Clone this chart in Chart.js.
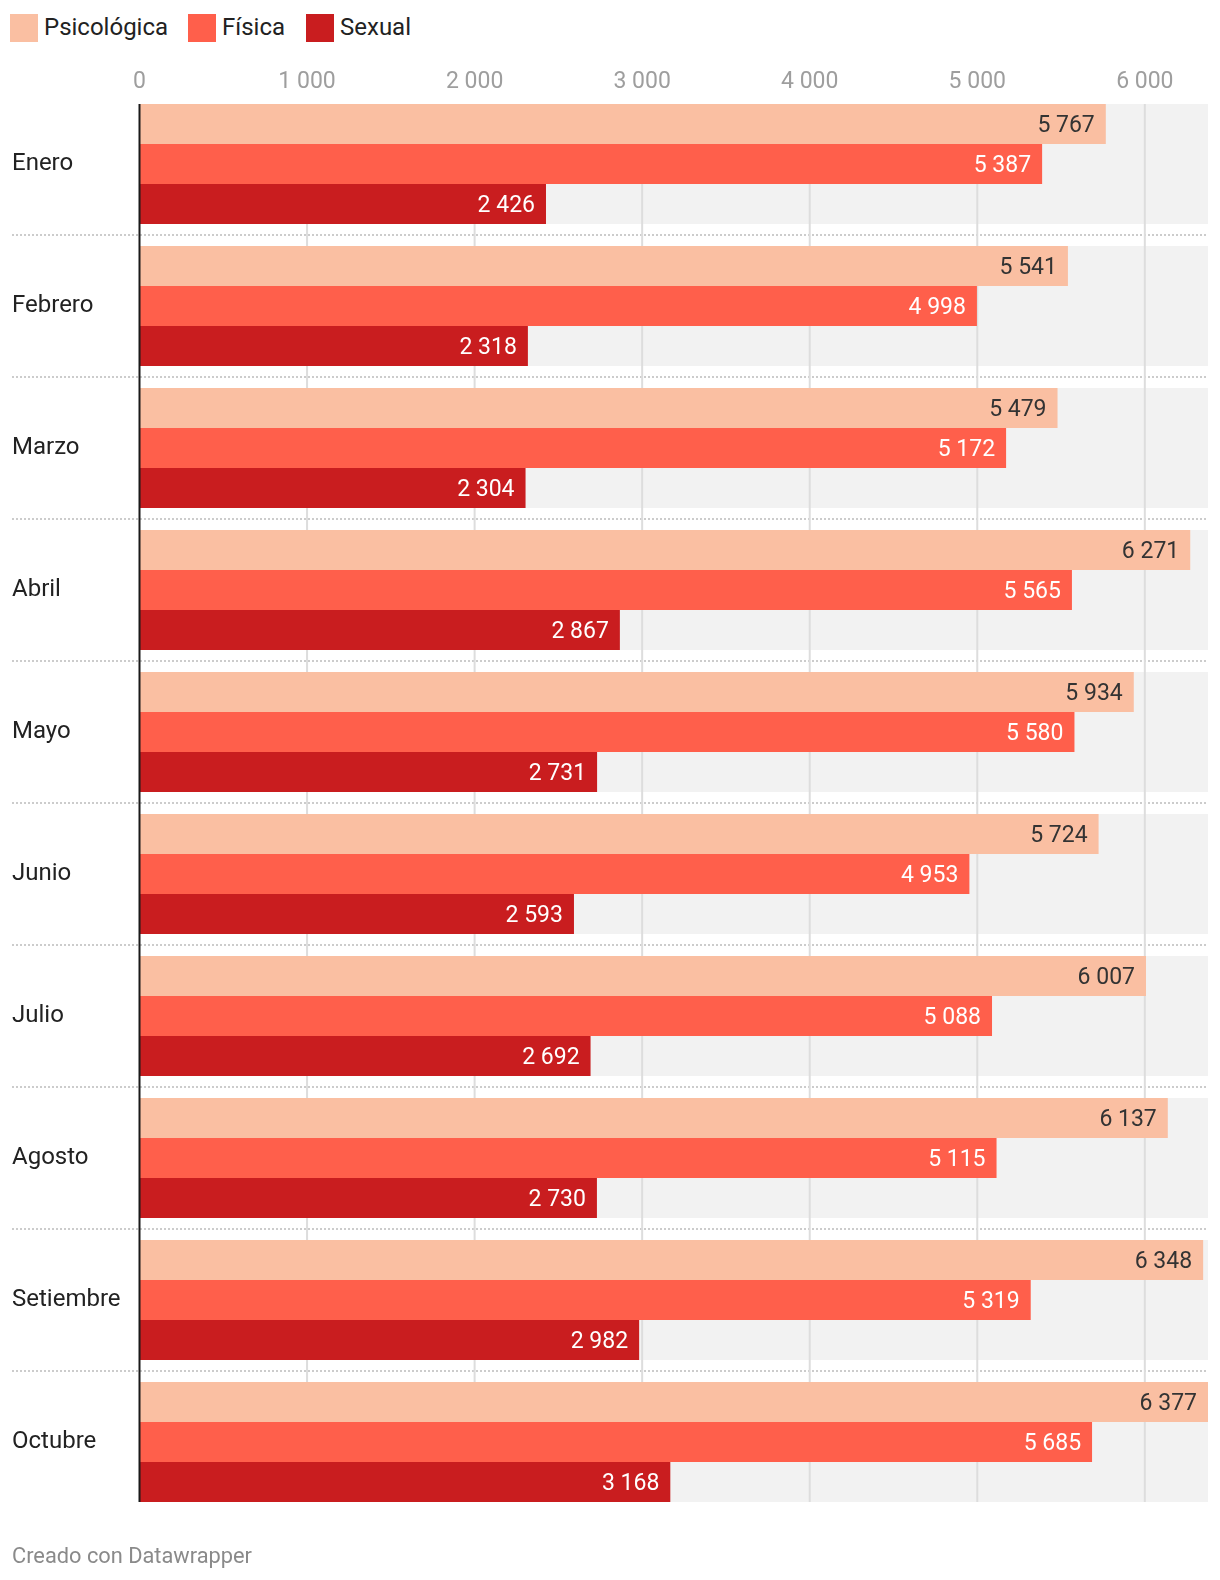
<!DOCTYPE html>
<html>
<head>
<meta charset="utf-8">
<script src="https://cdn.jsdelivr.net/npm/chart.js@4"></script>
<style>
  html, body { margin:0; padding:0; background:#fff; }
  body { width:1220px; height:1580px; position:relative; font-family: Roboto, "Noto Sans", sans-serif; overflow:hidden; }
  #wrap { position:absolute; left:0; top:0; width:1220px; height:1580px; }
  .legend { position:absolute; top:14px; left:10px; display:flex; align-items:center; height:28px; font-size:24px; color:#222; }
  .legend .item { display:flex; align-items:center; height:28px; }
  .legend .sw { width:28px; height:28px; margin-right:6px; }
  .legend span { position:relative; top:-1px; }
  .footer { position:absolute; left:12px; top:1543px; font-size:21.8px; color:#8a8a8a; line-height:26px; }
</style>
</head>
<body>
<div class="legend" id="legend"></div>
<div id="wrap"><canvas id="c" width="1220" height="1580"></canvas></div>
<div class="footer">Creado con Datawrapper</div>
<script>
const categories = ["Enero","Febrero","Marzo","Abril","Mayo","Junio","Julio","Agosto","Setiembre","Octubre"];
const seriesNames = ["Psicológica","Física","Sexual"];
const psicologica = [5767,5541,5479,6271,5934,5724,6007,6137,6348,6377];
const fisica      = [5387,4998,5172,5565,5580,4953,5088,5115,5319,5685];
const sexual      = [2426,2318,2304,2867,2731,2593,2692,2730,2982,3168];
const tickValues  = [0,1000,2000,3000,4000,5000,6000];
const colors = ["#fabfa2","#ff5f4b","#c91d1f"];
const labelColors = ["#333333","#ffffff","#ffffff"];

function fmt(v){ return String(v).replace(/\B(?=(\d{3})+(?!\d))/g, " "); }

const leg = document.getElementById('legend');
const legendX = [10,188,306];
seriesNames.forEach((n,i)=>{
  const it = document.createElement('div');
  it.className='item';
  it.style.position='absolute';
  it.style.left=(legendX[i]-10)+'px';
  it.style.top='0px';
  it.innerHTML = '<div class="sw" style="background:'+colors[i]+'"></div><span>'+n+'</span>';
  leg.appendChild(it);
});

const maxVal = Math.max(...psicologica, ...fisica, ...sexual);

const GROUP_H = 120;

const bgPlugin = {
  id:'bgPlugin',
  beforeDatasetsDraw(chart){
    const ctx = chart.ctx, x = chart.scales.x, y = chart.scales.y;
    const ca = chart.chartArea;
    ctx.save();
    ctx.fillStyle = '#f2f2f2';
    categories.forEach((c,i)=>{
      const cy = y.getPixelForValue(i);
      ctx.fillRect(x.getPixelForValue(0), cy-GROUP_H/2, x.getPixelForValue(maxVal)-x.getPixelForValue(0), GROUP_H);
    });
    const top = y.getPixelForValue(0)-GROUP_H/2;
    const bot = y.getPixelForValue(categories.length-1)+GROUP_H/2;
    ctx.strokeStyle = '#cccccc';
    ctx.lineWidth = 2;
    ctx.setLineDash([2,2]);
    for(let i=0;i<categories.length-1;i++){
      const yy = (y.getPixelForValue(i)+y.getPixelForValue(i+1))/2;
      ctx.beginPath(); ctx.moveTo(12, Math.round(yy)); ctx.lineTo(ca.right, Math.round(yy)); ctx.stroke();
    }
    ctx.setLineDash([]);
    ctx.strokeStyle = '#dddddd';
    ctx.lineWidth = 2;
    tickValues.forEach(v=>{
      if(v===0) return;
      const px = x.getPixelForValue(v);
      ctx.beginPath(); ctx.moveTo(px, top); ctx.lineTo(px, bot); ctx.stroke();
    });
    ctx.restore();
  },
  afterDatasetsDraw(chart){
    const ctx = chart.ctx, x = chart.scales.x, y = chart.scales.y;
    ctx.save();
    ctx.font = '23px Roboto, "Noto Sans", sans-serif';
    ctx.textAlign = 'right';
    ctx.textBaseline = 'middle';
    chart.data.datasets.forEach((ds,di)=>{
      const meta = chart.getDatasetMeta(di);
      meta.data.forEach((bar,i)=>{
        ctx.fillStyle = labelColors[di];
        ctx.fillText(fmt(ds.data[i]), bar.x-11, bar.y+2.5);
      });
    });
    const top = y.getPixelForValue(0)-GROUP_H/2;
    const bot = y.getPixelForValue(categories.length-1)+GROUP_H/2;
    ctx.strokeStyle = '#1a1a1a';
    ctx.lineWidth = 2;
    const x0 = x.getPixelForValue(0);
    ctx.beginPath(); ctx.moveTo(x0, top); ctx.lineTo(x0, bot); ctx.stroke();
    ctx.restore();
  }
};

new Chart(document.getElementById('c'), {
  type:'bar',
  data:{
    labels: categories,
    datasets:[
      {label:seriesNames[0], data:psicologica, backgroundColor:colors[0]},
      {label:seriesNames[1], data:fisica, backgroundColor:colors[1]},
      {label:seriesNames[2], data:sexual, backgroundColor:colors[2]}
    ]
  },
  options:{
    indexAxis:'y',
    responsive:false,
    animation:false,
    devicePixelRatio:1,
    categoryPercentage: 120/142,
    barPercentage: 1,
    layout:{ padding:{ left:12, right:12, top:60, bottom:67 } },
    plugins:{ legend:{display:false}, tooltip:{enabled:false} },
    scales:{
      x:{
        position:'top',
        min:0, max:maxVal,
        afterBuildTicks(scale){ scale.ticks = tickValues.map(v=>({value:v})); },
        afterFit(scale){ scale.height = 33; },
        grid:{ display:false, drawTicks:false, tickLength:0 },
        border:{ display:false },
        ticks:{ color:'#9e9e9e', font:{family:'Roboto', size:23}, padding:-3, maxRotation:0, autoSkip:false,
                callback:(v)=>fmt(v) }
      },
      y:{
        afterFit(scale){ scale.width = 127.5; },
        grid:{ display:false, drawTicks:false, tickLength:0 },
        border:{ display:false },
        ticks:{ color:'#222222', font:{family:'Roboto', size:24}, crossAlign:'far', padding:0 }
      }
    }
  },
  plugins:[bgPlugin]
});
</script>
</body>
</html>
